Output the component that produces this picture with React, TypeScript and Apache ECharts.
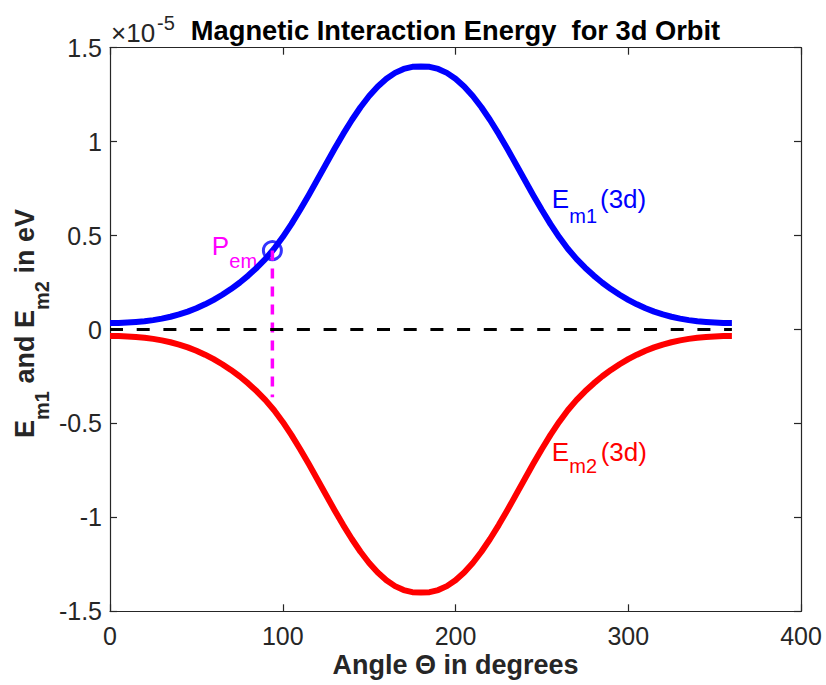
import React, { useEffect, useRef } from "react";
import * as echarts from "echarts";

// ---- data (values in units of 1e-5 eV) ----
const angles = [0, 5, 10, 15, 20, 25, 30, 35, 40, 45, 50, 55, 60, 65, 70, 75, 80, 85, 90, 95,
  100, 105, 110, 115, 120, 125, 130, 135, 140, 145, 150, 155, 160, 165, 170, 175, 180,
  185, 190, 195, 200, 205, 210, 215, 220, 225, 230, 235, 240, 245, 250, 255, 260, 265,
  270, 275, 280, 285, 290, 295, 300, 305, 310, 315, 320, 325, 330, 335, 340, 345, 350, 355, 360];
const em1Values = [0.035, 0.035, 0.037, 0.04, 0.044, 0.05, 0.058, 0.068, 0.08, 0.095, 0.113, 0.134, 0.158, 0.185, 0.215, 0.249, 0.287, 0.329, 0.376, 0.43,
  0.492, 0.561, 0.636, 0.715, 0.797, 0.88, 0.962, 1.041, 1.115, 1.183, 1.243, 1.294, 1.335, 1.366, 1.387, 1.398, 1.4,
  1.398, 1.387, 1.366, 1.335, 1.294, 1.243, 1.183, 1.115, 1.041, 0.962, 0.88, 0.797, 0.715, 0.636, 0.561, 0.492, 0.43,
  0.376, 0.329, 0.287, 0.249, 0.215, 0.185, 0.158, 0.134, 0.113, 0.095, 0.08, 0.068, 0.058, 0.05, 0.044, 0.04, 0.037, 0.035, 0.035];
const em2Values = [-0.035, -0.035, -0.037, -0.04, -0.044, -0.05, -0.058, -0.068, -0.08, -0.095, -0.113, -0.134, -0.158, -0.185, -0.215, -0.249, -0.287, -0.329, -0.376, -0.43,
  -0.492, -0.561, -0.636, -0.715, -0.797, -0.88, -0.962, -1.041, -1.115, -1.183, -1.243, -1.294, -1.335, -1.366, -1.387, -1.398, -1.4,
  -1.398, -1.387, -1.366, -1.335, -1.294, -1.243, -1.183, -1.115, -1.041, -0.962, -0.88, -0.797, -0.715, -0.636, -0.561, -0.492, -0.43,
  -0.376, -0.329, -0.287, -0.249, -0.215, -0.185, -0.158, -0.134, -0.113, -0.095, -0.08, -0.068, -0.058, -0.05, -0.044, -0.04, -0.037, -0.035, -0.035];
const pointAngle = 94;
const pointValue = 0.42;
const dropEndValue = -0.36;
const zeroLine = [[0, 0], [360, 0]];
const xTicks = { min: 0, max: 400, interval: 100 };
const yTicks = { min: -1.5, max: 1.5, interval: 0.5 };

const FONT = "'Liberation Sans', Arial, Helvetica, sans-serif";
const AX = "#262626";

function txt(text: string, x: number, y: number, size: number, color: string, bold = false, align = "left") {
  return {
    type: "text",
    x,
    y,
    silent: true,
    style: {
      text,
      fontSize: size,
      fontFamily: FONT,
      fontWeight: bold ? "bold" : "normal",
      fill: color,
      align,
      verticalAlign: "middle",
    },
  };
}

export default function App() {
  const ref = useRef<HTMLDivElement>(null);
  useEffect(() => {
    if (!ref.current) return;
    const chart = echarts.init(ref.current, null, { renderer: "svg" });
    const axisLine = { show: true, onZero: false, lineStyle: { color: AX, width: 1.2 } };
    const axisTick = { show: true, inside: true, length: 7, lineStyle: { color: AX, width: 1.2 } };
    const option: any = {
      animation: false,
      backgroundColor: "#ffffff",
      grid: { left: 110, right: 25, top: 47.7, bottom: 73.7, containLabel: false },
      xAxis: [
        {
          type: "value", ...xTicks, position: "bottom",
          axisLine, axisTick, splitLine: { show: false },
          axisLabel: { color: AX, fontSize: 25, fontFamily: FONT, margin: 12, showMinLabel: true, showMaxLabel: true },
        },
        {
          type: "value", ...xTicks, position: "top",
          axisLine, axisTick, splitLine: { show: false }, axisLabel: { show: false },
        },
      ],
      yAxis: [
        {
          type: "value", ...yTicks, position: "left",
          axisLine, axisTick, splitLine: { show: false },
          axisLabel: { color: AX, fontSize: 25, fontFamily: FONT, margin: 8, showMinLabel: true, showMaxLabel: true },
        },
        {
          type: "value", ...yTicks, position: "right",
          axisLine, axisTick, splitLine: { show: false }, axisLabel: { show: false },
        },
      ],
      series: [
        {
          type: "line", xAxisIndex: 0, yAxisIndex: 0, silent: true,
          data: angles.map((a, i) => [a, em1Values[i]]),
          symbol: "none", smooth: false,
          lineStyle: { color: "#0000ff", width: 6, cap: "butt", join: "round" },
        },
        {
          type: "line", xAxisIndex: 0, yAxisIndex: 0, silent: true,
          data: angles.map((a, i) => [a, em2Values[i]]),
          symbol: "none", smooth: false,
          lineStyle: { color: "#ff0000", width: 6, cap: "butt", join: "round" },
        },
        {
          type: "line", silent: true,
          data: [[pointAngle, pointValue], [pointAngle, dropEndValue]],
          symbol: "none",
          lineStyle: { color: "#ff00ff", width: 3.5, type: [10, 8] },
        },
        {
          type: "line", silent: true,
          data: zeroLine,
          symbol: "none",
          lineStyle: { color: "#000000", width: 3, type: [13, 13.7] },
        },
        {
          type: "scatter", silent: true,
          data: [[pointAngle, pointValue]],
          symbol: "circle", symbolSize: 18,
          itemStyle: { color: "rgba(0,0,0,0)", borderColor: "#0000ff", borderWidth: 3 },
        },
      ],
      graphic: [
        txt("Magnetic Interaction Energy  for 3d Orbit", 455.5, 30.8, 27.3, "#000", true, "center"),
        txt("\u00d710", 111, 33, 26, AX),
        txt("-5", 157, 22.5, 20, AX),
        txt("Angle \u0398 in degrees", 455.5, 665, 27, AX, true, "center"),
        {
          type: "group", x: 0, y: 438, rotation: Math.PI / 2, silent: true,
          children: [
            txt("E", 0, 24.5, 27, AX, true),
            txt("m1", 18, 41.8, 20, AX, true),
            txt("and", 54.4, 24.5, 27, AX, true),
            txt("E", 110, 24.5, 27, AX, true),
            txt("m2", 128, 41.8, 20, AX, true),
            txt("in eV", 164.4, 24.5, 27, AX, true),
          ],
        },
        txt("P", 211.7, 245.8, 26, "#ff00ff"),
        txt("em", 229.3, 261.3, 20, "#ff00ff"),
        txt("E", 551.7, 198.7, 26, "#0000ff"),
        txt("m1", 569.3, 216.1, 20, "#0000ff"),
        txt("(3d)", 600, 198.7, 26, "#0000ff"),
        txt("E", 551.7, 452, 26, "#ff0000"),
        txt("m2", 569.3, 466.1, 20, "#ff0000"),
        txt("(3d)", 600.7, 452, 26, "#ff0000"),
      ],
    };
    chart.setOption(option);
    return () => chart.dispose();
  }, []);
  return (
    <div
      ref={ref}
      style={{ position: "absolute", left: 0, top: 0, width: 826, height: 685, background: "#fff" }}
    />
  );
}
